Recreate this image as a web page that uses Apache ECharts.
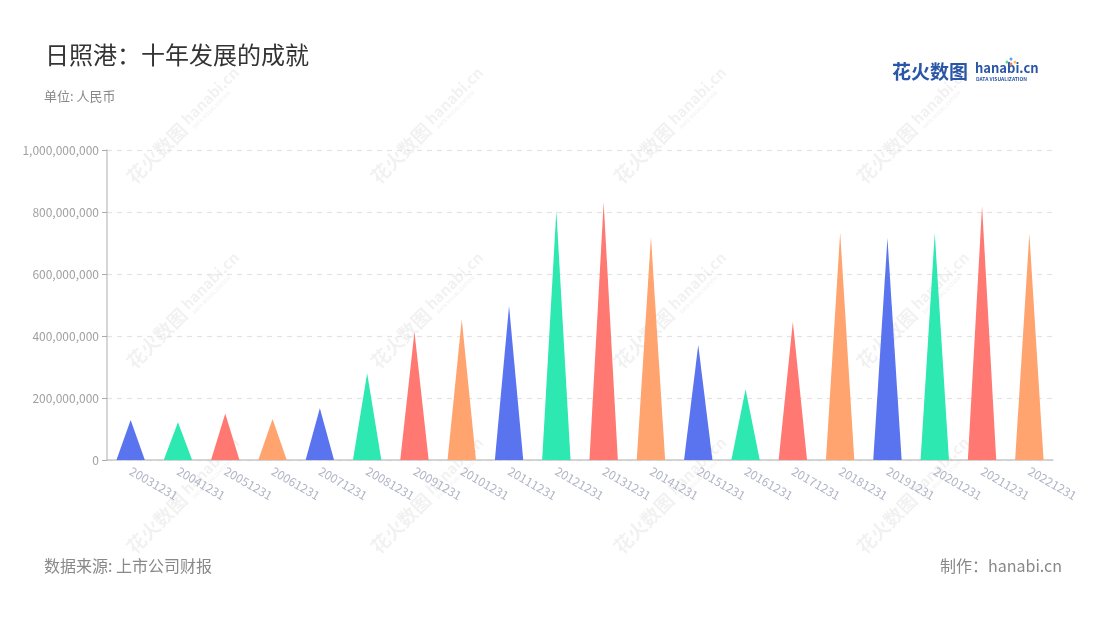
<!DOCTYPE html>
<html>
<head>
<meta charset="utf-8">
<script src="https://cdn.jsdelivr.net/npm/echarts@6/dist/echarts.min.js"></script>
<style>
html,body{margin:0;padding:0;background:#fff;}
#main{width:1100px;height:620px;}
</style>
</head>
<body>
<div id="main"></div>
<script>
const categories = ['20031231','20041231','20051231','20061231','20071231','20081231','20091231','20101231','20111231','20121231','20131231','20141231','20151231','20161231','20171231','20181231','20191231','20201231','20211231','20221231'];
const values = [129000000,122000000,150000000,132000000,167000000,280000000,414000000,454000000,497000000,804000000,831000000,720000000,371000000,228000000,446000000,733000000,715000000,731000000,819000000,731000000];
const palette = ['#5a73ee','#2ee8b1','#ff7872','#ffa36f'];
const yTicks = [0,200000000,400000000,600000000,800000000,1000000000];

const FONT = '"Noto Sans CJK SC", "Noto Sans", sans-serif';
const WM = 'rgba(0,0,0,0.055)';

function watermark(cx, cy){
  return {
    type:'group', x:cx, y:cy, rotation:Math.PI/4, silent:true, z:-10,
    children:[
      {type:'text', x:-78, y:0, style:{text:'花火数图', font:'bold 19px '+FONT, fill:WM, textVerticalAlign:'middle'}},
      {type:'text', x:2, y:-3, style:{text:'hanabi.cn', font:'bold 15px '+FONT, fill:WM, textVerticalAlign:'middle'}},
      {type:'text', x:4, y:8, style:{text:'DATA VISUALIZATION', font:'bold 5px '+FONT, fill:WM, textVerticalAlign:'middle'}}
    ]
  };
}
const wmCols = [185, 429, 672, 915];
const wmRows = [125, 310, 495];
const wms = [];
wmCols.forEach(x => wmRows.forEach(y => wms.push(watermark(x, y))));

const chart = echarts.init(document.getElementById('main'));
chart.setOption({
  backgroundColor:'#fff',
  animation:false,
  textStyle:{fontFamily:FONT},
  grid:{left:107, right:47, top:150, bottom:160, containLabel:false},
  xAxis:{
    type:'category',
    data:categories,
    axisLine:{lineStyle:{color:'#c8c8c8', width:1.5}},
    axisTick:{alignWithLabel:true, lineStyle:{color:'#aaa'}},
    axisLabel:{rotate:-30, color:'#b0b5c6', fontSize:12, margin:10, interval:0}
  },
  yAxis:{
    type:'value', min:0, max:1000000000, interval:200000000,
    axisLine:{show:true, lineStyle:{color:'#c8c8c8', width:1.5}},
    axisTick:{show:true, lineStyle:{color:'#aaa'}},
    axisLabel:{color:'#a0a0a0', fontSize:12, formatter:v => v.toLocaleString('en-US')},
    splitLine:{lineStyle:{type:[5,5], color:'#e3e3e3', width:1.2}}
  },
  series:[{
    type:'pictorialBar',
    barCategoryGap:'40%',
    symbol:'path://M0,10 L10,10 L5,0 z',
    symbolSize:['100%','100%'],
    data:values.map((v,i)=>({value:v, itemStyle:{color:palette[i%4]}})),
    z:10
  }],
  graphic:[
    ...wms,
    {type:'text', left:45, top:43, style:{text:'日照港：十年发展的成就', font:'24px '+FONT, fill:'#333'}},
    {type:'text', left:44, top:90, style:{text:'单位: 人民币', font:'13px '+FONT, fill:'#888'}},
    {type:'text', left:44, top:558, style:{text:'数据来源: 上市公司财报', font:'16px '+FONT, fill:'#888'}},
    {type:'text', right:38, top:558, style:{text:'制作：hanabi.cn', font:'16px '+FONT, fill:'#888'}},
    {type:'text', left:892, top:62, style:{text:'花火数图', font:'bold 19px '+FONT, fill:'#2a56a8'}},
    {type:'text', left:975, top:62, style:{text:'hanabi.cn', font:'bold 13px '+FONT, fill:'#2a56a8'}},
    {type:'text', left:976, top:77, style:{text:'DATA VISUALIZATION', font:'bold 5px '+FONT, fill:'#2a56a8'}},
    {type:'circle', shape:{cx:1011, cy:64, r:1.5}, style:{fill:'#ff7a6c'}},
    {type:'circle', shape:{cx:1015, cy:62, r:1.5}, style:{fill:'#ffc34d'}},
    {type:'circle', shape:{cx:1007, cy:62, r:1.5}, style:{fill:'#5ad08c'}},
    {type:'circle', shape:{cx:1011, cy:59, r:1.5}, style:{fill:'#5aa0f0'}}
  ]
});
</script>
</body>
</html>
